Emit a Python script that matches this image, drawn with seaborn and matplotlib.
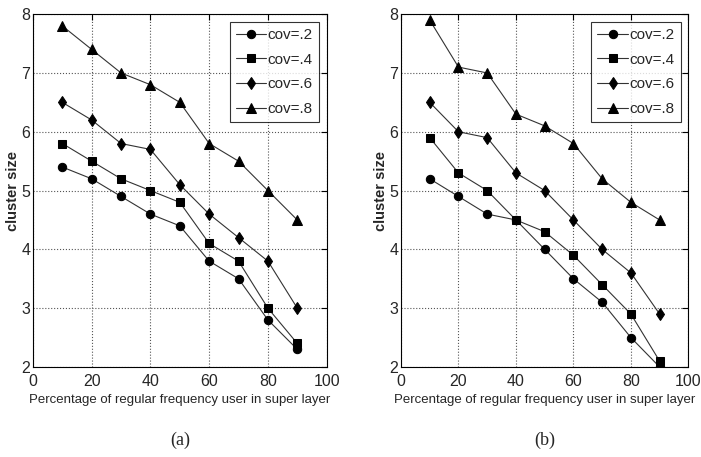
import matplotlib
matplotlib.use('Agg')
import matplotlib.pyplot as plt
import seaborn as sns
import pandas as pd

# percentage of regular frequency users in super layer
pct = [10, 20, 30, 40, 50, 60, 70, 80, 90]
labels = ['cov=.2', 'cov=.4', 'cov=.6', 'cov=.8']

# panel (a)
a_cov2 = [5.4, 5.2, 4.9, 4.6, 4.4, 3.8, 3.5, 2.8, 2.3]
a_cov4 = [5.8, 5.5, 5.2, 5.0, 4.8, 4.1, 3.8, 3.0, 2.4]
a_cov6 = [6.5, 6.2, 5.8, 5.7, 5.1, 4.6, 4.2, 3.8, 3.0]
a_cov8 = [7.8, 7.4, 7.0, 6.8, 6.5, 5.8, 5.5, 5.0, 4.5]

# panel (b)
b_cov2 = [5.2, 4.9, 4.6, 4.5, 4.0, 3.5, 3.1, 2.5, 2.0]
b_cov4 = [5.9, 5.3, 5.0, 4.5, 4.3, 3.9, 3.4, 2.9, 2.1]
b_cov6 = [6.5, 6.0, 5.9, 5.3, 5.0, 4.5, 4.0, 3.6, 2.9]
b_cov8 = [7.9, 7.1, 7.0, 6.3, 6.1, 5.8, 5.2, 4.8, 4.5]

sns.set_style("white")
plt.rcParams['font.family'] = ['Liberation Sans', 'DejaVu Sans']

markers = ['o', 's', 'd', '^']
msizes = [6, 6, 6, 7]

fig = plt.figure(figsize=(7.01, 4.57), dpi=100)
ax_a = fig.add_axes([0.047, 0.197, 0.419, 0.772])
ax_b = fig.add_axes([0.572, 0.197, 0.410, 0.772])

panels = [(ax_a, [a_cov2, a_cov4, a_cov6, a_cov8], '(a)'),
          (ax_b, [b_cov2, b_cov4, b_cov6, b_cov8], '(b)')]

for ax, series, cap in panels:
    for vals, lab, m, ms in zip(series, labels, markers, msizes):
        df = pd.DataFrame({'pct': pct, 'size': vals})
        sns.lineplot(data=df, x='pct', y='size', ax=ax, color='#333333',
                     linewidth=0.8, marker=m, markersize=ms,
                     markerfacecolor='black', markeredgecolor='black',
                     label=lab)
    ax.set_xlim(0, 100)
    ax.set_ylim(2, 8)
    ax.set_xticks([0, 20, 40, 60, 80, 100])
    ax.set_yticks([2, 3, 4, 5, 6, 7, 8])
    ax.grid(True, linestyle=':', color='#555555', linewidth=0.8)
    ax.tick_params(direction='in', top=True, right=True, length=4,
                   labelsize=11.5, color='black')
    ax.tick_params(axis='x', pad=5)
    ax.tick_params(axis='y', pad=2)
    for s in ax.spines.values():
        s.set_color('black')
        s.set_linewidth(0.8)
    ax.set_xlabel('Percentage of regular frequency user in super layer',
                  fontsize=9.5, labelpad=4)
    ax.set_ylabel('cluster size', fontsize=10.5, fontweight='bold',
                  labelpad=1)
    leg = ax.legend(loc='upper right', fontsize=11, frameon=True,
                    fancybox=False, edgecolor='black', borderpad=0.4,
                    handlelength=2.0, handletextpad=0.1, labelspacing=0.7,
                    borderaxespad=0.5)
    leg.get_frame().set_linewidth(0.8)
    ax.text(0.5, -0.207, cap, transform=ax.transAxes, ha='center',
            va='center', fontsize=13,
            family=['Liberation Serif', 'DejaVu Serif'])

fig.savefig('out.png', dpi=100)
plt.close(fig)
